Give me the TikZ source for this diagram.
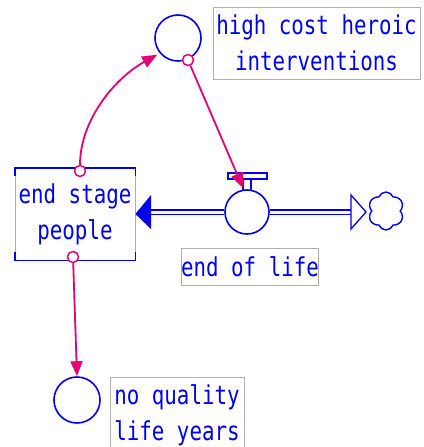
\documentclass[tikz,border=0pt]{standalone}
\usepackage{fontspec}
\newfontfamily\labfont[FakeStretch=0.8]{DejaVu Sans Mono}
\usetikzlibrary{arrows.meta,shapes.symbols}
\definecolor{vblue}{RGB}{0,0,235}
\definecolor{vpink}{RGB}{228,0,118}
\definecolor{vgray}{RGB}{175,175,175}
\begin{document}
\begin{tikzpicture}[x=1pt,y=-1pt,
  aux/.style={circle,draw=vblue,line width=1.6pt,minimum size=46pt,inner sep=0pt,fill=white},
  txt/.style={text=vblue,font=\labfont\fontsize{26}{36}\selectfont,align=center,inner sep=0pt},
  lab/.style={txt,draw=vgray,line width=1pt,fill=white},
  link/.style={draw=vpink,line width=1.8pt,-{Triangle[length=15pt,width=12pt]}},
  tail/.style={circle,draw=vpink,line width=1.5pt,fill=white,minimum size=11pt,inner sep=0pt},
  pipe/.style={draw=vblue,line width=1.3pt,double=white,double distance=3pt},
  bracket/.style={draw=vblue,line width=1.8pt}
]
\clip (0,0) rectangle (423,447);
\fill[white] (0,0) rectangle (423,447);

% auxiliary: high cost heroic interventions
\node[aux] (hc) at (178,38) {};
\node[lab,minimum width=207pt,minimum height=72pt] (hcl) at (316.5,43) {high cost heroic\\interventions};

% stock: end stage people
\node[txt,draw=vgray,line width=0.8pt,fill=white,minimum width=120pt,minimum height=92pt] (stock) at (75,214) {end stage\\people};
\draw[bracket] ([yshift=-8pt]stock.north west) -- (stock.north west) -- (stock.north east) -- ([yshift=-8pt]stock.north east);
\draw[bracket] ([yshift=8pt]stock.south west) -- (stock.south west) -- (stock.south east) -- ([yshift=8pt]stock.south east);

% flow: end of life
\node[aux,minimum size=44pt] (valve) at (247,212) {};
\coordinate (pl) at (151,212);
\coordinate (pr) at (351,212);
\draw[pipe] (valve.west) -- (pl);
\draw[pipe] (valve.east) -- (pr);
\fill[vblue] (stock.east) -- (151,195) -- (151,229) -- cycle;
\draw[vblue,line width=1.3pt,fill=white] (351,195) -- (366,212) -- (351,229) -- cycle;
\draw[vblue,line width=1.2pt,fill=white] (228,173) rectangle (267,179);
\draw[vblue,line width=1.2pt] (243,179) -- (243,190.5) (251,179) -- (251,190.5);
\node[cloud,cloud puffs=6,cloud puff arc=140,aspect=1,draw=vblue,line width=1.4pt,minimum width=36pt,minimum height=38pt,inner sep=0pt] (cloud) at (386,211) {};
\node[lab,minimum width=134pt,minimum height=37pt] (eol) at (250,266.5) {end of life};

% auxiliary: no quality life years
\node[aux] (nq) at (77,400) {};
\node[lab,minimum width=134pt,minimum height=76pt] (nql) at (177,415) {no quality\\life years};

% causal links
\node[tail] (t1) at (80,171) {};
\node[tail] (t2) at (188,60) {};
\node[tail] (t3) at (73,257) {};
\draw[link,shorten >=3pt] (t1) .. controls (80,120) and (115,78) .. (hc.220);
\draw[link] (t2) -- (243,188);
\draw[link] (t3) -- (nq.north);
\end{tikzpicture}
\end{document}
